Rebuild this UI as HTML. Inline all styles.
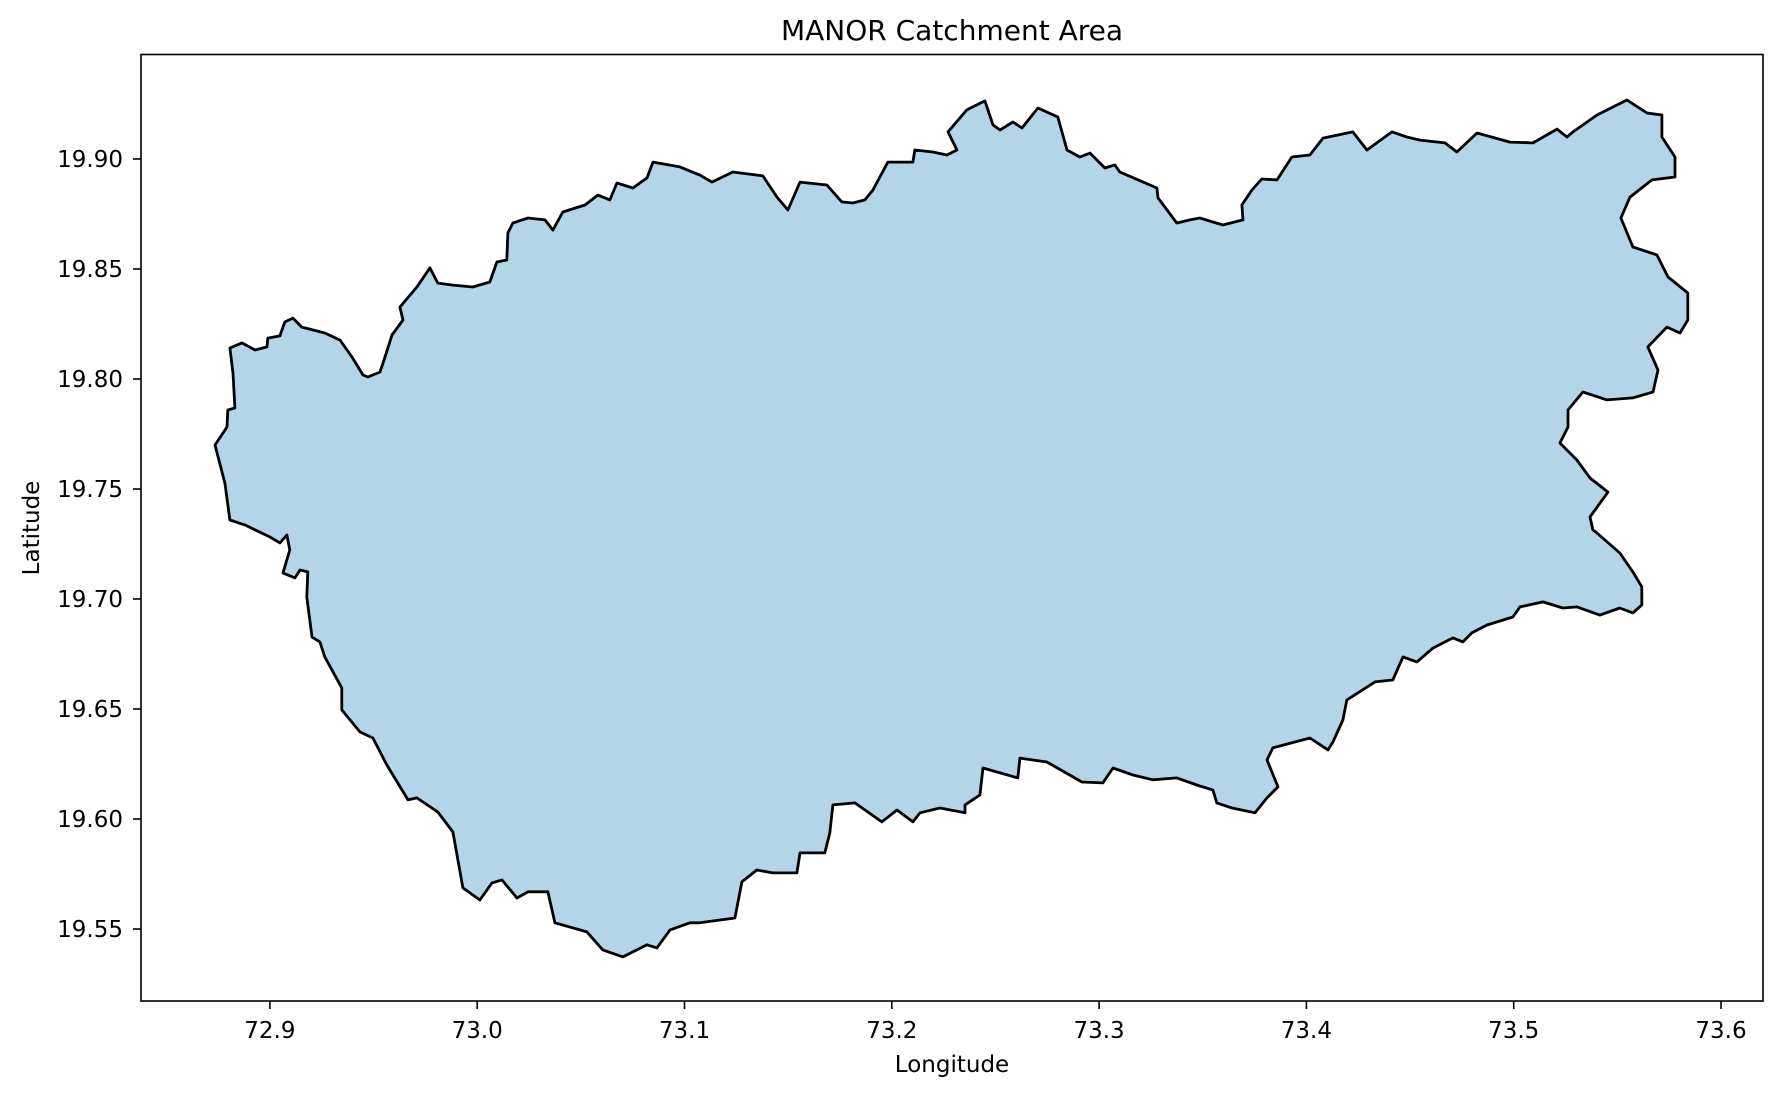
<!DOCTYPE html>
<html><head><meta charset="utf-8"><title>MANOR Catchment Area</title>
<style>
html,body{margin:0;padding:0;background:#fff;}
svg{display:block;}
text{font-family:"DejaVu Sans","Liberation Sans",sans-serif;fill:#000;}
</style></head>
<body>
<svg id="chart" width="1780" height="1094" viewBox="0 0 1780 1094" xmlns="http://www.w3.org/2000/svg">
  <rect x="0" y="0" width="1780" height="1094" fill="#fff"/>
  <text x="952" y="40" font-size="28" text-anchor="middle">MANOR Catchment Area</text>
  <g id="plot"></g>
  <g id="xaxis"></g>
  <g id="yaxis"></g>
  <rect x="141" y="54.5" width="1622" height="946.5" fill="none" stroke="#000" stroke-width="1.6"/>
  <text x="952" y="1072" font-size="23" text-anchor="middle">Longitude</text>
  <text x="39" y="528" font-size="23" text-anchor="middle" transform="rotate(-90 39 528)">Latitude</text>
</svg>
<script>
const boundaryLon = [72.8735,72.8793,72.8797,72.8831,72.8822,72.8807,72.8865,72.8928,72.8986,72.8990,72.9048,72.9072,72.9111,72.9154,72.9265,72.9338,72.9396,72.9449,72.9473,72.9531,72.9555,72.9589,72.9642,72.9627,72.9709,72.9772,72.9810,72.9883,72.9979,73.0061,73.0095,73.0143,73.0148,73.0172,73.0245,73.0327,73.0365,73.0413,73.0520,73.0582,73.0640,73.0674,73.0751,73.0819,73.0848,73.0978,73.1074,73.1132,73.1233,73.1378,73.1446,73.1499,73.1557,73.1687,73.1759,73.1812,73.1870,73.1909,73.1981,73.2102,73.2111,73.2198,73.2266,73.2314,73.2271,73.2362,73.2449,73.2488,73.2522,73.2584,73.2628,73.2705,73.2801,73.2845,73.2907,73.2956,73.3028,73.3076,73.3100,73.3279,73.3284,73.3375,73.3438,73.3486,73.3597,73.3694,73.3689,73.3737,73.3785,73.3858,73.3930,73.4017,73.4080,73.4224,73.4292,73.4413,73.4485,73.4548,73.4668,73.4726,73.4823,73.4982,73.5093,73.5209,73.5257,73.5286,73.5402,73.5546,73.5643,73.5715,73.5715,73.5778,73.5778,73.5667,73.5561,73.5517,73.5575,73.5691,73.5744,73.5840,73.5840,73.5802,73.5739,73.5647,73.5696,73.5672,73.5575,73.5450,73.5334,73.5262,73.5262,73.5223,73.5305,73.5368,73.5455,73.5368,73.5382,73.5402,73.5512,73.5575,73.5618,73.5618,73.5575,73.5512,73.5416,73.5305,73.5237,73.5141,73.5030,73.4996,73.4871,73.4798,73.4755,73.4707,73.4610,73.4533,73.4466,73.4417,73.4331,73.4195,73.4176,73.4128,73.4104,73.4017,73.3838,73.3810,73.3863,73.3810,73.3752,73.3641,73.3568,73.3549,73.3486,73.3375,73.3260,73.3163,73.3067,73.3018,73.2917,73.2748,73.2618,73.2608,73.2440,73.2425,73.2353,73.2353,73.2232,73.2136,73.2102,73.2025,73.1952,73.1822,73.1716,73.1701,73.1677,73.1557,73.1542,73.1426,73.1349,73.1277,73.1243,73.1074,73.1026,73.0930,73.0867,73.0819,73.0703,73.0606,73.0529,73.0375,73.0341,73.0245,73.0192,73.0119,73.0071,73.0013,72.9931,72.9883,72.9810,72.9709,72.9666,72.9564,72.9497,72.9434,72.9347,72.9347,72.9265,72.9241,72.9203,72.9178,72.9183,72.9145,72.9121,72.9063,72.9096,72.9082,72.9048,72.9000,72.8879,72.8807,72.8783];
const boundaryLat = [19.7700,19.7782,19.7859,19.7868,19.8027,19.8141,19.8164,19.8132,19.8146,19.8186,19.8196,19.8259,19.8277,19.8236,19.8209,19.8177,19.8100,19.8018,19.8009,19.8032,19.8100,19.8200,19.8268,19.8327,19.8418,19.8505,19.8436,19.8427,19.8418,19.8441,19.8532,19.8541,19.8664,19.8709,19.8732,19.8723,19.8677,19.8759,19.8791,19.8836,19.8814,19.8891,19.8868,19.8914,19.8986,19.8964,19.8927,19.8895,19.8941,19.8923,19.8827,19.8768,19.8895,19.8882,19.8805,19.8800,19.8814,19.8859,19.8986,19.8986,19.9041,19.9032,19.9018,19.9041,19.9123,19.9223,19.9264,19.9155,19.9132,19.9168,19.9141,19.9232,19.9191,19.9041,19.9009,19.9027,19.8959,19.8973,19.8941,19.8868,19.8823,19.8709,19.8723,19.8732,19.8700,19.8723,19.8791,19.8859,19.8909,19.8905,19.9009,19.9018,19.9095,19.9123,19.9041,19.9123,19.9100,19.9086,19.9073,19.9032,19.9118,19.9077,19.9073,19.9136,19.9100,19.9123,19.9200,19.9268,19.9209,19.9200,19.9100,19.9009,19.8918,19.8905,19.8827,19.8732,19.8600,19.8564,19.8464,19.8391,19.8268,19.8209,19.8236,19.8146,19.8041,19.7941,19.7914,19.7905,19.7941,19.7859,19.7782,19.7709,19.7632,19.7550,19.7486,19.7373,19.7314,19.7300,19.7209,19.7123,19.7055,19.6973,19.6937,19.6959,19.6927,19.6964,19.6959,19.6987,19.6964,19.6918,19.6882,19.6846,19.6805,19.6823,19.6777,19.6714,19.6737,19.6632,19.6623,19.6541,19.6450,19.6350,19.6314,19.6368,19.6323,19.6268,19.6146,19.6096,19.6028,19.6050,19.6073,19.6132,19.6150,19.6187,19.6178,19.6200,19.6232,19.6164,19.6168,19.6259,19.6277,19.6187,19.6232,19.6109,19.6064,19.6028,19.6050,19.6028,19.5987,19.6041,19.5987,19.6073,19.6064,19.5937,19.5846,19.5846,19.5755,19.5755,19.5768,19.5714,19.5550,19.5528,19.5528,19.5496,19.5414,19.5428,19.5373,19.5405,19.5487,19.5528,19.5669,19.5669,19.5641,19.5723,19.5709,19.5632,19.5687,19.5941,19.6032,19.6096,19.6087,19.6246,19.6368,19.6396,19.6496,19.6596,19.6737,19.6805,19.6827,19.7009,19.7123,19.7132,19.7096,19.7118,19.7223,19.7291,19.7255,19.7282,19.7337,19.7359,19.7527];
const xTicks = [72.9,73.0,73.1,73.2,73.3,73.4,73.5,73.6];
const xTickLabels = ["72.9","73.0","73.1","73.2","73.3","73.4","73.5","73.6"];
const yTicks = [19.55,19.60,19.65,19.70,19.75,19.80,19.85,19.90];
const yTickLabels = ["19.55","19.60","19.65","19.70","19.75","19.80","19.85","19.90"];

const NS = "http://www.w3.org/2000/svg";
function xScale(lon){ return 269.9 + (lon - 72.9) * 2073; }
function yScale(lat){ return 159 + (19.9 - lat) * 2200; }

const plot = document.getElementById('plot');
let d = '';
for (let i = 0; i < boundaryLon.length; i++) {
  d += (i === 0 ? 'M' : 'L') + xScale(boundaryLon[i]).toFixed(1) + ',' + yScale(boundaryLat[i]).toFixed(1);
}
d += 'Z';
const poly = document.createElementNS(NS, 'path');
poly.setAttribute('d', d);
poly.setAttribute('fill', '#b4d5e8');
poly.setAttribute('stroke', '#000');
poly.setAttribute('stroke-width', '2.8');
poly.setAttribute('stroke-linejoin', 'round');


plot.appendChild(poly);

const xg = document.getElementById('xaxis');
xTicks.forEach((v, i) => {
  const x = xScale(v);
  const t = document.createElementNS(NS, 'line');
  t.setAttribute('x1', x); t.setAttribute('x2', x);
  t.setAttribute('y1', 1001); t.setAttribute('y2', 1009);
  t.setAttribute('stroke', '#000'); t.setAttribute('stroke-width', '1.6');
  
  
  xg.appendChild(t);
  const l = document.createElementNS(NS, 'text');
  l.setAttribute('x', x); l.setAttribute('y', 1038);
  l.setAttribute('font-size', '23'); l.setAttribute('text-anchor', 'middle');
  l.textContent = xTickLabels[i];
  
  
  xg.appendChild(l);
});

const yg = document.getElementById('yaxis');
yTicks.forEach((v, i) => {
  const y = yScale(v);
  const t = document.createElementNS(NS, 'line');
  t.setAttribute('x1', 133); t.setAttribute('x2', 141);
  t.setAttribute('y1', y); t.setAttribute('y2', y);
  t.setAttribute('stroke', '#000'); t.setAttribute('stroke-width', '1.6');
  
  
  yg.appendChild(t);
  const l = document.createElementNS(NS, 'text');
  l.setAttribute('x', 123); l.setAttribute('y', y + 8);
  l.setAttribute('font-size', '23'); l.setAttribute('text-anchor', 'end');
  l.textContent = yTickLabels[i];
  
  
  yg.appendChild(l);
});
</script>
</body></html>
